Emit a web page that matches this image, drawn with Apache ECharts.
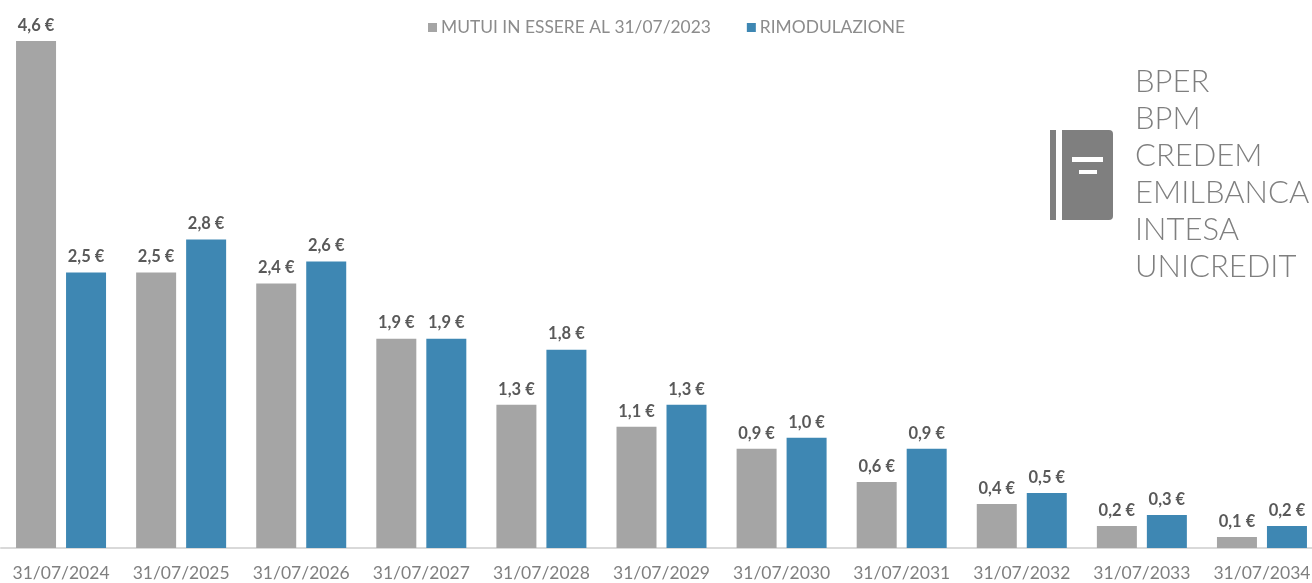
<!DOCTYPE html>
<html><head><meta charset="utf-8">
<style>html,body{margin:0;padding:0;background:#fff;overflow:hidden;width:1312px;height:583px}#c{width:1330px;height:583px}</style>
<script src="https://cdn.jsdelivr.net/npm/echarts@6/dist/echarts.min.js"></script>
</head><body><div id="c"></div>
<script>
const categories = ['31/07/2024','31/07/2025','31/07/2026','31/07/2027','31/07/2028','31/07/2029','31/07/2030','31/07/2031','31/07/2032','31/07/2033','31/07/2034'];
const mutui = [4.6,2.5,2.4,1.9,1.3,1.1,0.9,0.6,0.4,0.2,0.1];
const rimodulazione = [2.5,2.8,2.6,1.9,1.8,1.3,1.0,0.9,0.5,0.3,0.2];
const banks = ['BPER','BPM','CREDEM','EMILBANCA','INTESA','UNICREDIT'];
const seriesNames = ['MUTUI IN ESSERE AL 31/07/2023','RIMODULAZIONE'];
const FONT = 'Lato';
const fmt = p => p.value.toFixed(1).replace('.', ',') + ' €';
const label = {show:true, position:'top', distance:7, formatter:fmt, color:'#595959', fontFamily:FONT, fontWeight:'bold', fontSize:16.5};
const chart = echarts.init(document.getElementById('c'), null, {renderer:'canvas'});
chart.setOption({
  animation:false,
  backgroundColor:'#fff',
  legend:{left:423, top:14, itemWidth:9, itemHeight:9, itemGap:36, icon:'rect',
    textStyle:{color:'#8c8c8c', fontFamily:FONT, fontSize:17.4, padding:[0,0,0,-1]}, data:seriesNames},
  grid:{left:1, top:0, width:1321, bottom:35, containLabel:false},
  xAxis:{type:'category', data:categories,
    axisLine:{show:true, lineStyle:{color:'#d9d9d9', width:2}}, axisTick:{show:false},
    axisLabel:{color:'#7f7f7f', fontFamily:FONT, fontSize:17.5, margin:16, interval:0}},
  yAxis:{type:'value', min:0, max:4.973, show:false, splitLine:{show:false}},
  series:[
    {name:seriesNames[0], type:'bar', data:mutui, barWidth:40, barGap:'25%', itemStyle:{color:'#a5a5a5'}, label},
    {name:seriesNames[1], type:'bar', data:rimodulazione, barWidth:40, itemStyle:{color:'#3e87b3'}, label}
  ],
  graphic:[
    {type:'rect', shape:{x:1050,y:130,width:6,height:90}, style:{fill:'#7f7f7f'}},
    {type:'rect', shape:{x:1062,y:130,width:51,height:90,r:[0,4,4,0]}, style:{fill:'#7f7f7f'}},
    {type:'rect', shape:{x:1072,y:157,width:31,height:5}, style:{fill:'#fff'}},
    {type:'rect', shape:{x:1079,y:170,width:18,height:4}, style:{fill:'#fff'}},
    ...banks.map((t,i)=>({type:'text', x:1135, y:82+i*37,
      style:{text:t, fill:'#7f7f7f', font:'300 31px '+FONT, textVerticalAlign:'middle'}}))
  ]
});
</script></body></html>
